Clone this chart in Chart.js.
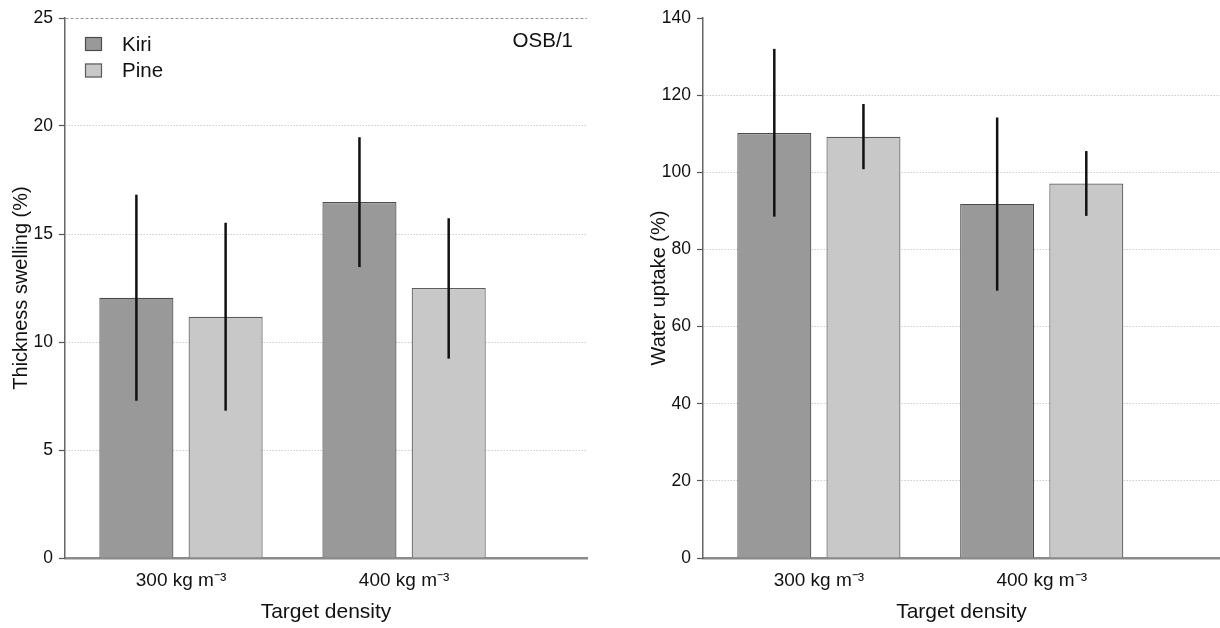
<!DOCTYPE html>
<html>
<head>
<meta charset="utf-8">
<script src="https://cdn.jsdelivr.net/npm/chart.js@4.4.1/dist/chart.umd.min.js"></script>
<style>
  html, body { margin: 0; padding: 0; background: #fff; }
  .wrap { display: flex; width: 1220px; height: 628px; }
  .panel { position: relative; width: 610px; height: 628px; }
</style>
</head>
<body>
<div class="wrap">
  <div class="panel"><canvas id="swellingChart"></canvas></div>
  <div class="panel"><canvas id="uptakeChart"></canvas></div>
</div>
<script>
// target densities (x positions 1 and 2 on the index axis)
const densities = ['300 kg m⁻³', '400 kg m⁻³'];
const densityPos = [1, 2];
const species = ['Kiri', 'Pine'];

// thickness swelling (%), mean and [low, high] of the error bar
const swellingKiri = [12.05, 16.48];
const swellingPine = [11.17, 12.5];
const swellingKiriErr = [[7.28, 16.82], [13.47, 19.48]];
const swellingPineErr = [[6.82, 15.52], [9.23, 15.73]];

// water uptake (%)
const uptakeKiri = [110.2, 91.8];
const uptakePine = [109.2, 97.1];
const uptakeKiriErr = [[88.5, 132.0], [69.3, 114.2]];
const uptakePineErr = [[100.8, 117.7], [88.7, 105.5]];

const swellingTicks = [0, 25, 5];
const uptakeTicks = [0, 140, 20];

Chart.defaults.font.family = '"Liberation Sans", Arial, Helvetica, sans-serif';
Chart.defaults.color = '#111';

const kiriFill = '#999999', kiriLine = '#4c4c4c';
const pineFill = '#c8c8c8', pineLine = '#5c5c5c';

function points(values) {
    return values.map((v, i) => ({ x: densityPos[i], y: v }));
}

// vertical error lines, placed with the chart's own scales
const errorBars = {
    id: 'errorBars',
    afterDatasetsDraw(chart) {
        const ctx = chart.ctx;
        const yScale = chart.scales.y;
        chart.data.datasets.forEach((ds, di) => {
            const meta = chart.getDatasetMeta(di);
            meta.data.forEach((bar, i) => {
                const [lo, hi] = ds.errors[i];
                ctx.save();
                ctx.strokeStyle = '#111';
                ctx.lineWidth = 2.5;
                ctx.beginPath();
                ctx.moveTo(bar.x, yScale.getPixelForValue(lo));
                ctx.lineTo(bar.x, yScale.getPixelForValue(hi));
                ctx.stroke();
                ctx.restore();
            });
        });
    }
};

// legend + panel tag drawn inside the plot area
const insideLabels = {
    id: 'insideLabels',
    afterDraw(chart, args, opts) {
        const ctx = chart.ctx;
        const area = chart.chartArea;
        ctx.save();
        ctx.font = '20.5px "Liberation Sans", Arial, sans-serif';
        ctx.textBaseline = 'middle';
        if (opts.legend) {
            chart.data.datasets.forEach((ds, i) => {
                const cy = area.top + 26 + i * 26.5;
                ctx.fillStyle = ds.backgroundColor;
                ctx.strokeStyle = ds.borderColor;
                ctx.lineWidth = 1.2;
                ctx.fillRect(area.left + 20, cy - 7, 17, 14);
                ctx.strokeRect(area.left + 20.5, cy - 6.5, 16, 13);
                ctx.fillStyle = '#111';
                ctx.textAlign = 'left';
                ctx.fillText(ds.label, area.left + 57, cy + 1);
            });
        }
        if (opts.tag) {
            ctx.fillStyle = '#111';
            ctx.textAlign = 'right';
            ctx.fillText(opts.tag, area.right - 14, area.top + 23);
        }
        ctx.restore();
    }
};

function makeConfig(opt) {
    return {
        type: 'bar',
        data: {
            datasets: [{
                label: species[0],
                data: points(opt.kiri),
                errors: opt.kiriErr,
                backgroundColor: kiriFill,
                borderColor: kiriLine,
                borderWidth: 1.2,
                categoryPercentage: 0.8,
                barPercentage: 0.83
            },
            {
                label: species[1],
                data: points(opt.pine),
                errors: opt.pineErr,
                backgroundColor: pineFill,
                borderColor: pineLine,
                borderWidth: 1.2,
                categoryPercentage: 0.8,
                barPercentage: 0.83
            }]
        },
        options: {
            responsive: true,
            maintainAspectRatio: false,
            animation: false,
            layout: { padding: { top: 18, right: opt.padRight, left: 0, bottom: 0 } },
            plugins: {
                legend: { display: false },
                tooltip: { enabled: false },
                insideLabels: { legend: opt.legend, tag: opt.tag }
            },
            scales: {
                x: {
                    type: 'linear',
                    offset: false,
                    min: 0.48,
                    max: opt.xMax,
                    afterBuildTicks: (scale) => { scale.ticks = densityPos.map(v => ({ value: v })); },
                    afterFit: (scale) => { scale.height = 70; },
                    grid: { display: false, offset: false },
                    border: { display: true, color: '#8a8a8a', width: 2.5 },
                    ticks: {
                        font: { size: 19 },
                        padding: 3,
                        callback: (v) => densities[densityPos.indexOf(v)]
                    },
                    title: {
                        display: true,
                        text: 'Target density',
                        font: { size: 21 },
                        padding: { top: 0, bottom: 3.5 }
                    }
                },
                y: {
                    min: opt.ticks[0],
                    max: opt.ticks[1],
                    afterFit: (scale) => { scale.width = opt.yWidth; },
                    grid: {
                        color: (c) => {
                            if (!c.tick) return '#cccccc';
                            if (c.tick.value === 0) return 'rgba(0,0,0,0)';
                            if (c.tick.value === opt.ticks[1]) return opt.topLine;
                            return '#cccccc';
                        },
                        lineWidth: 1,
                        tickColor: '#555',
                        tickWidth: 1.2,
                        tickLength: 6
                    },
                    border: {
                        display: true,
                        color: '#666',
                        width: 1.5,
                        dash: (c) => {
                            if (c.type !== 'tick') return [];
                            return c.tick.value === opt.ticks[1] ? [3, 2] : [1.5, 1.5];
                        }
                    },
                    ticks: {
                        stepSize: opt.ticks[2],
                        font: { size: 17.5 },
                        padding: 6
                    },
                    title: {
                        display: true,
                        text: opt.yTitle,
                        font: { size: 20 },
                        padding: { top: opt.titlePad, bottom: 0 }
                    }
                }
            }
        },
        plugins: [errorBars, insideLabels]
    };
}

document.addEventListener('DOMContentLoaded', function () {
    new Chart(document.getElementById('swellingChart'), makeConfig({
        kiri: swellingKiri, pine: swellingPine,
        kiriErr: swellingKiriErr, pineErr: swellingPineErr,
        ticks: swellingTicks, yTitle: 'Thickness swelling (%)',
        yWidth: 65, padRight: 23, xMax: 2.82, titlePad: 9,
        topLine: '#999999', legend: true, tag: 'OSB/1'
    }));

    new Chart(document.getElementById('uptakeChart'), makeConfig({
        kiri: uptakeKiri, pine: uptakePine,
        kiriErr: uptakeKiriErr, pineErr: uptakePineErr,
        ticks: uptakeTicks, yTitle: 'Water uptake (%)',
        yWidth: 93, padRight: 0, xMax: 2.80, titlePad: 37.5,
        topLine: 'rgba(0,0,0,0)', legend: false, tag: null
    }));
});
</script>
</body>
</html>
